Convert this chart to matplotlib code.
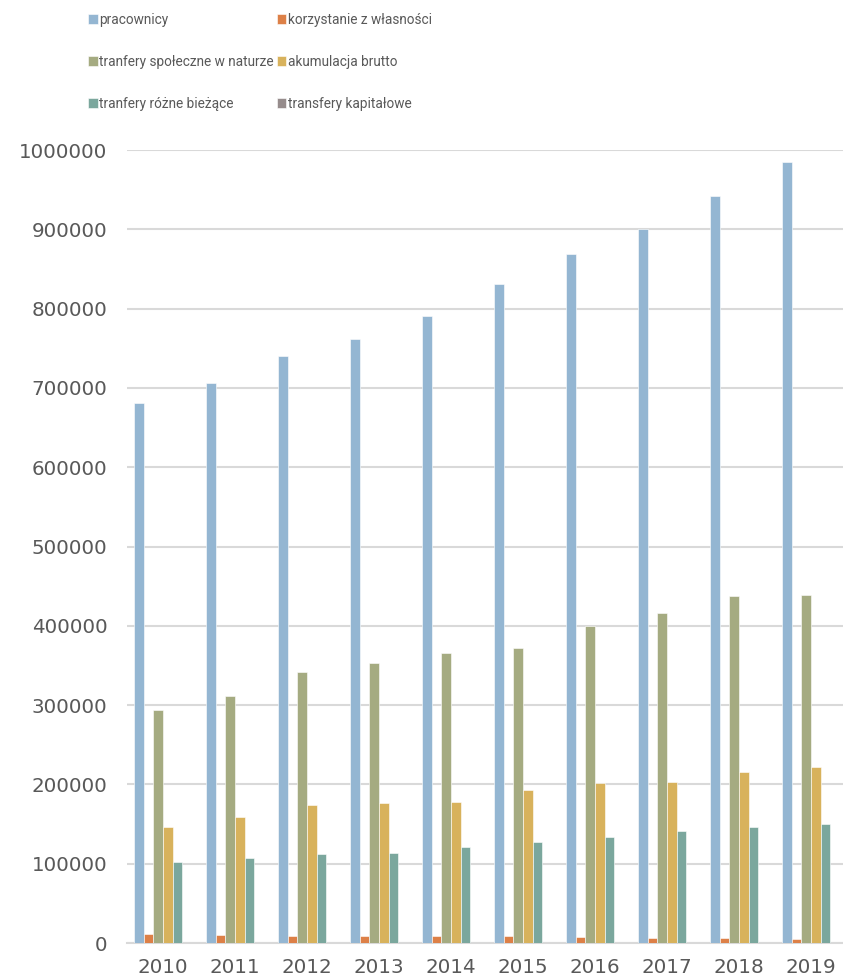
import matplotlib.pyplot as plt
import numpy as np

lata = ["2010", "2011", "2012", "2013", "2014", "2015", "2016", "2017", "2018", "2019"]

pracownicy = [681000, 706700, 740800, 761400, 790900, 831600, 869000, 900000, 942000, 984900]
korzystanie = [10900, 9700, 8800, 8400, 8400, 8400, 7600, 6700, 5900, 5000]
spoleczne = [293700, 311300, 341200, 352500, 365500, 371400, 400000, 416400, 438200, 439100]
akumulacja = [146600, 158800, 173500, 176000, 178200, 192900, 201700, 203400, 215500, 222200]
rozne = [102500, 107100, 112200, 113000, 121000, 127300, 133200, 140800, 146200, 150400]
kapitalowe = [0, 0, 0, 0, 0, 0, 0, 0, 0, 0]

serie = [
    ("pracownicy", pracownicy, "#94B6D2"),
    ("korzystanie z własności", korzystanie, "#DD8047"),
    ("tranfery społeczne w naturze", spoleczne, "#A5AB81"),
    ("akumulacja brutto", akumulacja, "#D8B25C"),
    ("tranfery różne bieżące", rozne, "#7BA79D"),
    ("transfery kapitałowe", kapitalowe, "#968C8C"),
]

szary = "#595959"

fig = plt.figure(figsize=(8.43, 9.8), dpi=100)
ax = fig.add_axes([127/843, 37/980, 720/843, 793/980])

x = np.arange(len(lata))
w = 0.134
handles = {}
for i, (nazwa, wart, kolor) in enumerate(serie):
    pos = x - 2.5*w + i*w
    b = ax.bar(pos, wart, width=w, color=kolor, edgecolor="white", linewidth=0.4, zorder=3)
    handles[nazwa] = b

ax.set_xlim(-0.5, len(lata) - 0.5)
ax.set_ylim(0, 1000000)
ax.set_yticks(np.arange(0, 1000001, 100000))
ax.set_yticklabels([str(v) for v in range(0, 1000001, 100000)])
ax.set_xticks(x)
ax.set_xticklabels(lata)
ax.yaxis.grid(True, color="#D9D9D9", linewidth=1.5, zorder=0)
ax.set_axisbelow(True)
for s in ["top", "right", "left"]:
    ax.spines[s].set_visible(False)
ax.spines["bottom"].set_color("#D9D9D9")
ax.spines["bottom"].set_linewidth(1.5)
ax.tick_params(axis="both", length=0, colors=szary, labelsize=14.3)
ax.tick_params(axis="y", pad=14)
ax.tick_params(axis="x", pad=11)

# kolejnosc wierszami jak w Excelu
kolejnosc = [0, 2, 4, 1, 3, 5]
h = [handles[serie[k][0]] for k in kolejnosc]
l = [serie[k][0] for k in kolejnosc]
leg = fig.legend(h, l, ncol=2, loc="upper left", bbox_to_anchor=(88/843, 1 - 13/980),
                 frameon=False, borderpad=0, borderaxespad=0,
                 handlelength=0.7, handleheight=0.7,
                 handletextpad=0.1, columnspacing=0.25, labelspacing=2.05,
                 prop={"family": ["Roboto", "DejaVu Sans"], "size": 9.8})
for t in leg.get_texts():
    t.set_color(szary)

plt.savefig("out.png", dpi=100)
